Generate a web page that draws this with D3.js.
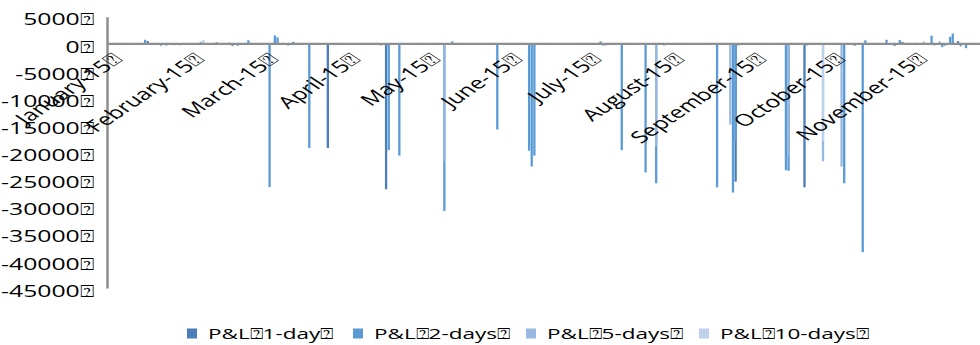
<!DOCTYPE html>
<html>
<head>
<meta charset="utf-8">
<script src="https://cdn.jsdelivr.net/npm/d3@7"></script>
<style>
  html, body { margin: 0; padding: 0; background: #fff; }
  svg { display: block; font-family: "Open Sans", sans-serif; }
</style>
</head>
<body>
<svg id="chart" width="980" height="345"></svg>
<script>
// Placeholder glyph that appears after every label
const MARK = "\u2370";

// Month ticks (first day of each month) and their names
const monthStarts = ["2015-01-01", "2015-02-01", "2015-03-01", "2015-04-01", "2015-05-01", "2015-06-01",
                     "2015-07-01", "2015-08-01", "2015-09-01", "2015-10-01", "2015-11-01"];
const monthNames = ["January", "February", "March", "April", "May", "June",
                    "July", "August", "September", "October", "November"];

// Value axis ticks
const yTicks = [5000, 0, -5000, -10000, -15000, -20000, -25000, -30000, -35000, -40000, -45000];

// Series names
const seriesNames = ["P&L" + MARK + "1-day" + MARK, "P&L" + MARK + "2-days" + MARK,
                     "P&L" + MARK + "5-days" + MARK, "P&L" + MARK + "10-days" + MARK];

// Daily P&L per horizon: [date, value]; days not listed are zero
const pnl1Day = [
  ["2015-01-15", 500], ["2015-01-22", -300], ["2015-03-11", 350], ["2015-03-24", -19200],
  ["2015-04-15", -26800], ["2015-08-25", -25400], ["2015-09-20", -26450], ["2015-10-27", 350],
  ["2015-11-17", 500]
];
const pnl2Days = [
  ["2015-01-14", 750], ["2015-01-20", -350], ["2015-01-25", -250], ["2015-02-10", 300],
  ["2015-02-15", 200], ["2015-02-16", -400], ["2015-02-18", -350], ["2015-02-22", 650],
  ["2015-03-02", -26400], ["2015-03-04", 1550], ["2015-03-05", 1200], ["2015-03-09", -300],
  ["2015-03-17", -19200], ["2015-04-13", -300], ["2015-04-16", -19600], ["2015-04-20", -20600],
  ["2015-05-07", -30800], ["2015-05-10", 450], ["2015-05-27", -15800], ["2015-06-08", -19700],
  ["2015-06-09", -22600], ["2015-06-10", -20600], ["2015-07-05", 450], ["2015-07-06", -300],
  ["2015-07-13", -19600], ["2015-07-22", -23700], ["2015-07-26", -25700], ["2015-07-29", -300],
  ["2015-08-18", -26450], ["2015-08-24", -27400], ["2015-08-25", -18000], ["2015-08-26", -300],
  ["2015-09-13", -23300], ["2015-09-14", -23400], ["2015-09-21", -300], ["2015-10-05", -25700],
  ["2015-10-09", -350], ["2015-10-12", -38400], ["2015-10-13", 650], ["2015-10-14", -250],
  ["2015-10-21", 750], ["2015-10-24", -400], ["2015-10-26", 700], ["2015-11-07", 1500],
  ["2015-11-08", -300], ["2015-11-11", -600], ["2015-11-14", 1300], ["2015-11-15", 1900],
  ["2015-11-18", -450], ["2015-11-20", -800]
];
const pnl5Days = [
  ["2015-01-08", 150], ["2015-01-27", -300], ["2015-02-04", 400], ["2015-02-23", 200],
  ["2015-02-25", -200], ["2015-04-02", 150], ["2015-04-11", 200], ["2015-04-27", 150],
  ["2015-05-07", -21600], ["2015-07-07", -350], ["2015-07-26", -18900], ["2015-08-23", -14900],
  ["2015-09-14", -20800], ["2015-09-27", -21650], ["2015-10-04", -22600], ["2015-11-01", 200],
  ["2015-11-04", 400], ["2015-11-10", 450], ["2015-11-12", -400]
];
const pnl10Days = [
  ["2015-02-05", 700], ["2015-06-01", 150], ["2015-06-15", 200], ["2015-07-01", 100],
  ["2015-07-27", 200], ["2015-09-27", -17900], ["2015-10-06", 200]
];

const seriesData = [pnl1Day, pnl2Days, pnl5Days, pnl10Days];
const seriesColors = ["#4a7ebb", "#5b9bd5", "#97b8e0", "#bed1eb"];

// Layout
const W = 980, H = 345;
const plotLeft = 107, plotRight = 980;
const dayPx = 2.648;
const janX = 110.7;
const STRETCH = 1.5;       // horizontal stretch applied to all text
const FONT = 16.5;

const parse = d3.utcParse("%Y-%m-%d");
const x = d3.scaleUtc()
  .domain([parse("2015-01-01"), parse("2015-12-01")])
  .range([janX, janX + 334 * dayPx]);
const y = d3.scaleLinear().domain([-45000, 5000]).range([288, 16.7]);

const svg = d3.select("#chart");

svg.append("defs").append("clipPath").attr("id", "plotClip")
  .append("rect").attr("x", plotLeft).attr("y", 0).attr("width", plotRight - plotLeft).attr("height", H);

// Bars: series overlap on the same day slot, later series in front
const barW = dayPx * 0.87;
const bars = svg.append("g").attr("clip-path", "url(#plotClip)");
seriesData.forEach((data, i) => {
  bars.append("g")
    .selectAll("rect")
    .data(data)
    .join("rect")
    .attr("x", d => x(parse(d[0])) - barW / 2)
    .attr("y", d => y(Math.max(0, d[1])))
    .attr("width", barW)
    .attr("height", d => Math.abs(y(d[1]) - y(0)))
    .attr("fill", seriesColors[i]);
});

// Value axis
const yAxis = svg.append("g")
  .attr("transform", `translate(${plotLeft},0)`)
  .call(d3.axisLeft(y).tickValues(yTicks).tickSize(0).tickSizeOuter(0).tickPadding(0)
    .tickFormat(d => d + MARK));
yAxis.select(".domain").attr("stroke", "#8e8e8e").attr("stroke-width", 2.5);
yAxis.selectAll(".tick text")
  .attr("x", null).attr("dy", null).attr("y", null)
  .attr("text-anchor", "end")
  .attr("fill", "#000")
  .style("font-size", FONT + "px")
  .style("font-family", "'Open Sans', sans-serif")
  .attr("transform", `translate(-12,8.2) scale(${STRETCH},1)`);

// Category (date) axis line at zero
svg.append("line")
  .attr("x1", plotLeft).attr("x2", plotRight)
  .attr("y1", y(0)).attr("y2", y(0))
  .attr("stroke", "#8e8e8e").attr("stroke-width", 2.2);

// Month labels, rotated
svg.append("g")
  .selectAll("text")
  .data(monthStarts)
  .join("text")
  .attr("text-anchor", "end")
  .style("font-size", FONT + "px")
  .attr("transform", (d, i) => `translate(${x(parse(d)) + 13.3},60) scale(${STRETCH},1) rotate(-45)`)
  .text((d, i) => monthNames[i] + "-15" + MARK);

// Legend
const legendX = [187, 353, 526, 699];
const legend = svg.append("g");
seriesNames.forEach((name, i) => {
  legend.append("rect")
    .attr("x", legendX[i]).attr("y", 328.5)
    .attr("width", 10).attr("height", 10)
    .attr("fill", seriesColors[i]);
  legend.append("text")
    .attr("transform", `translate(${legendX[i] + 21},339) scale(${STRETCH},1)`)
    .style("font-size", "15px")
    .text(name);
});
</script>
</body>
</html>
